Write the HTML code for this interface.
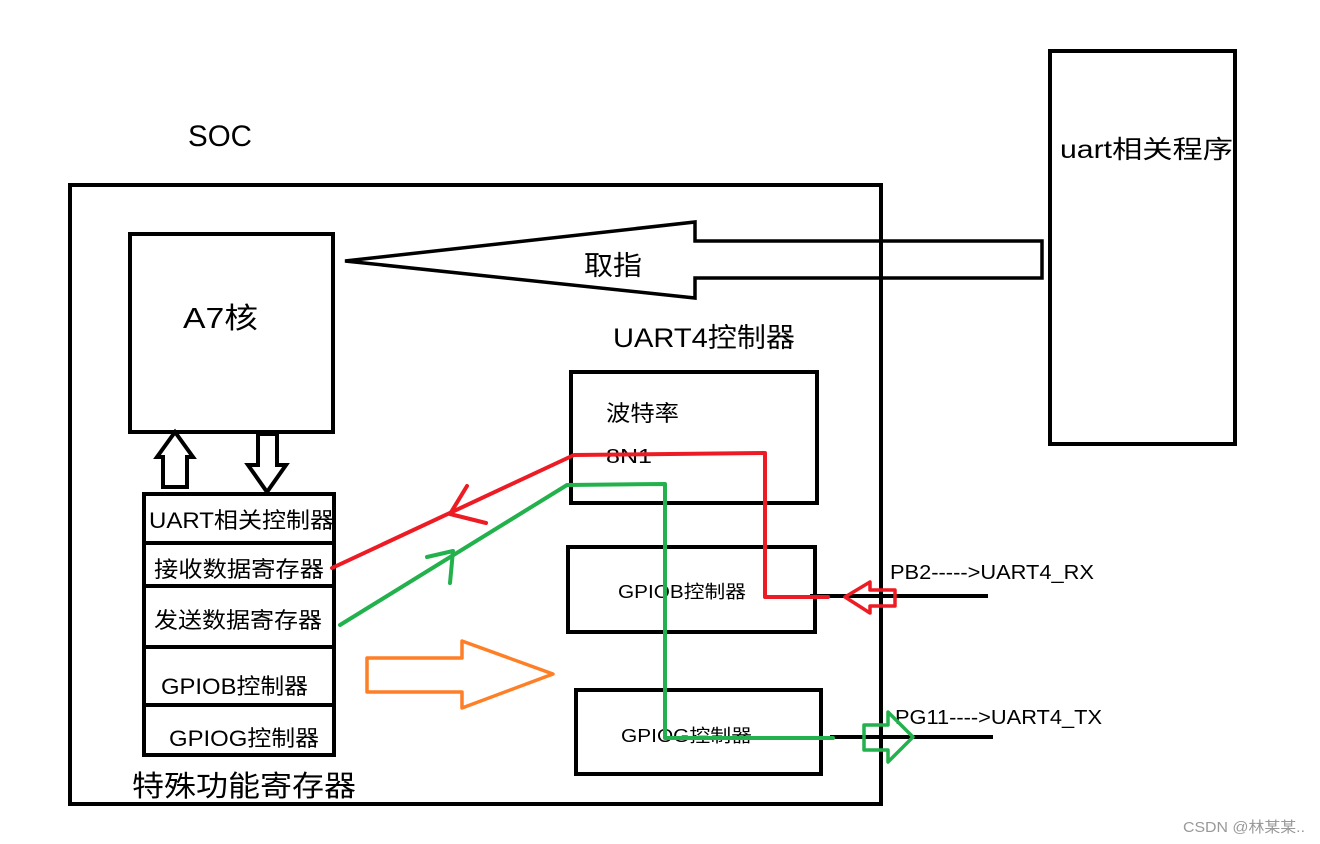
<!DOCTYPE html>
<html><head><meta charset="utf-8"><style>
html,body{margin:0;padding:0;background:#fff;}
svg{display:block;}
text{font-family:"Liberation Sans","Noto Sans CJK SC",sans-serif;fill:#000;}
</style></head><body>
<svg width="1320" height="844" viewBox="0 0 1320 844" xmlns="http://www.w3.org/2000/svg">
<g fill="none" stroke="#000" stroke-width="4">
<rect x="70" y="185" width="811" height="619"/>
<rect x="130" y="234" width="203" height="198"/>
<rect x="1050" y="51" width="185" height="393"/>
<polygon points="345,261 695,222 695,241 1042,241 1042,278 695,278 695,298" stroke-width="3.5"/>
<polygon points="163,487 187,487 187,457 193,457 175,432 157,457 163,457"/>
<polygon points="258,434 277,434 277,465 286,465 267,492 248,465 258,465"/>
<rect x="144" y="494" width="190" height="261"/>
<line x1="144" y1="543" x2="334" y2="543"/>
<line x1="144" y1="586" x2="334" y2="586"/>
<line x1="144" y1="647" x2="334" y2="647"/>
<line x1="144" y1="705" x2="334" y2="705"/>
<rect x="571" y="372" width="246" height="131"/>
<rect x="568" y="547" width="247" height="85"/>
<rect x="576" y="690" width="245" height="84"/>
<line x1="810" y1="596" x2="988" y2="596"/>
<line x1="830" y1="737" x2="993" y2="737"/>
</g>
<g lengthAdjust="spacingAndGlyphs">
<text x="188" y="146" font-size="30" textLength="64" lengthAdjust="spacingAndGlyphs">SOC</text>
<text x="1060" y="158" font-size="25" textLength="173" lengthAdjust="spacingAndGlyphs">uart相关程序</text>
<text x="584" y="275" font-size="27" textLength="58" lengthAdjust="spacingAndGlyphs">取指</text>
<text x="183" y="328" font-size="29" textLength="75" lengthAdjust="spacingAndGlyphs">A7核</text>
<text x="613" y="347" font-size="27" textLength="182" lengthAdjust="spacingAndGlyphs">UART4控制器</text>
<text x="149" y="528" font-size="22" textLength="185" lengthAdjust="spacingAndGlyphs">UART相关控制器</text>
<text x="154" y="577" font-size="22" textLength="170" lengthAdjust="spacingAndGlyphs">接收数据寄存器</text>
<text x="154" y="628" font-size="22" textLength="168" lengthAdjust="spacingAndGlyphs">发送数据寄存器</text>
<text x="161" y="694" font-size="22" textLength="147" lengthAdjust="spacingAndGlyphs">GPIOB控制器</text>
<text x="169" y="746" font-size="22" textLength="150" lengthAdjust="spacingAndGlyphs">GPIOG控制器</text>
<text x="132" y="796" font-size="29" textLength="224" lengthAdjust="spacingAndGlyphs">特殊功能寄存器</text>
<text x="606" y="421" font-size="22" textLength="73" lengthAdjust="spacingAndGlyphs">波特率</text>
<text x="606" y="463" font-size="20" textLength="46" lengthAdjust="spacingAndGlyphs">8N1</text>
<text x="618" y="598" font-size="18" textLength="128" lengthAdjust="spacingAndGlyphs">GPIOB控制器</text>
<text x="621" y="742" font-size="18" textLength="131" lengthAdjust="spacingAndGlyphs">GPIOG控制器</text>
<text x="890" y="579" font-size="20" textLength="204" lengthAdjust="spacingAndGlyphs">PB2-----&gt;UART4_RX</text>
<text x="895" y="724" font-size="20" textLength="207" lengthAdjust="spacingAndGlyphs">PG11----&gt;UART4_TX</text>
<text x="1183" y="832" font-size="15" textLength="122" lengthAdjust="spacingAndGlyphs" style="fill:#999">CSDN @林某某..</text>
</g>
<g fill="none" stroke="#ed1c24" stroke-width="4" stroke-linejoin="round" stroke-linecap="round">
<polyline points="332,568 574,455 765,453 765,597 828,597"/>
<polyline points="467,486 450,514 486,523"/>
<polygon points="845,597 870,582 870,590 895,590 895,606 870,606 870,613" stroke-width="3.5"/>
</g>
<g fill="none" stroke="#22b14c" stroke-width="4" stroke-linejoin="round" stroke-linecap="round">
<polyline points="340,625 567,485 665,484 665,738 833,738"/>
<polyline points="427,557 453,551 450,583"/>
<polygon points="864,725 888,725 888,712 913,737 888,762 888,750 864,750" stroke-width="3.5"/>
</g>
<polygon points="367,658 462,658 462,641 553,674 462,708 462,692 367,692" fill="none" stroke="#ff7f27" stroke-width="3.5" stroke-linejoin="round"/>
</svg>
</body></html>
